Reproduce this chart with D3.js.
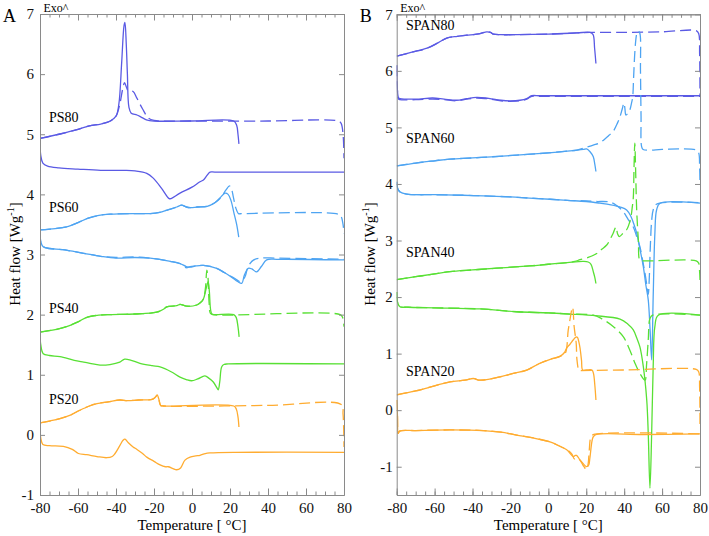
<!DOCTYPE html>
<html><head><meta charset="utf-8">
<script src="https://cdn.jsdelivr.net/npm/d3@7"></script>
<style>html,body{margin:0;padding:0;background:#fff}</style>
</head><body><svg id="c" width="709" height="536"></svg>
<script>
// ---------- tick values ----------
const xTickValues = [-80,-60,-40,-20,0,20,40,60,80];
const xMinorTicks = [-80,-75,-70,-65,-60,-55,-50,-45,-40,-35,-30,-25,-20,-15,-10,-5,0,5,10,15,20,25,30,35,40,45,50,55,60,65,70,75,80];
const yTickValues = [-1,0,1,2,3,4,5,6,7];

// ---------- Panel A data ([T °C, heat flow W/g]) ----------
const ps80HeatSolid = [[-80,4.93],[-70,5.0],[-60,5.08],[-54,5.14],[-48,5.17],[-43,5.22],[-40,5.30],[-38.5,5.5],[-37,6.2],[-35.8,6.8],[-35.3,6.86],[-34.6,6.5],[-34,6.0],[-33.2,5.45],[-32,5.35],[-29,5.32],[-27,5.29],[-24,5.24],[-20,5.22],[0,5.22],[22,5.22],[23.5,5.15],[24.2,5.0],[24.7,4.84]];
const ps80HeatDash = [[-80,4.93],[-70,5.0],[-60,5.08],[-54,5.14],[-48,5.17],[-43,5.22],[-40,5.30],[-38,5.5],[-36.5,5.75],[-35.5,5.86],[-34.5,5.78],[-33.5,5.72],[-31,5.71],[-29,5.6],[-26,5.42],[-23,5.27],[-20,5.23],[0,5.22],[40,5.22],[77,5.22],[78.5,5.18],[79.5,5.0],[80,4.6]];
const ps80Cool = [[-80,4.85],[-79.6,4.65],[-78.5,4.52],[-76,4.47],[-70,4.44],[-60,4.42],[-48,4.40],[-35,4.40],[-30,4.39],[-23.8,4.35],[-20.4,4.27],[-16,4.10],[-12,3.93],[-11,3.93],[-6.3,4.02],[0,4.12],[4.2,4.21],[6,4.24],[8,4.32],[9.5,4.37],[12,4.37],[80,4.37]];

const ps60HeatSolid = [[-80,3.41],[-72,3.43],[-66,3.46],[-60,3.53],[-55,3.60],[-49,3.65],[-43,3.67],[-30,3.68],[-22,3.68],[-17,3.70],[-13,3.74],[-8,3.79],[-5.5,3.82],[-3,3.79],[-1,3.78],[3,3.79],[8,3.80],[12,3.86],[15,3.95],[17.4,4.02],[19,4.0],[20.5,3.9],[22,3.7],[23.5,3.5],[24.6,3.29]];
const ps60HeatDash = [[-80,3.41],[-72,3.43],[-66,3.46],[-60,3.53],[-55,3.60],[-49,3.65],[-43,3.67],[-30,3.68],[-22,3.68],[-17,3.70],[-13,3.74],[-8,3.79],[-5.5,3.82],[-3,3.79],[-1,3.78],[3,3.79],[8,3.80],[12,3.86],[15,3.94],[18,4.08],[19.7,4.14],[20.7,4.10],[21.8,3.95],[23,3.78],[24.5,3.68],[26,3.68],[77,3.67],[78.5,3.63],[79.5,3.5],[80,3.35]];
const ps60Cool = [[-80,3.38],[-79.5,3.2],[-78.3,3.13],[-75,3.10],[-68,3.08],[-57,3.02],[-48,2.97],[-40,2.94],[-30,2.95],[-22,2.94],[-12,2.89],[-6.3,2.85],[-3,2.80],[-1,2.79],[2,2.81],[6,2.82],[13,2.77],[17,2.70],[21,2.62],[24,2.55],[26.2,2.52],[27.5,2.65],[29.6,2.77],[31.5,2.76],[34,2.71],[36.5,2.80],[39.3,2.91],[45,2.92],[80,2.91]];
const ps60CoolDash = [[-80,3.38],[-79.5,3.2],[-78.3,3.13],[-75,3.10],[-68,3.08],[-57,3.02],[-48,2.97],[-40,2.95],[-30,2.96],[-22,2.94],[-12,2.89],[-6.3,2.85],[-3,2.78],[-1,2.80],[2,2.81],[6,2.82],[13,2.77],[17,2.70],[20,2.65],[23,2.59],[25.5,2.55],[27.9,2.63],[29,2.75],[30.5,2.85],[32.5,2.91],[35.8,2.94],[45,2.94],[80,2.92]];

const ps40HeatSolid = [[-80,1.71],[-72,1.75],[-66,1.80],[-60,1.88],[-55,1.96],[-49,1.99],[-43,2.00],[-30,2.01],[-18.6,2.04],[-15,2.09],[-13.3,2.13],[-8,2.15],[-6.3,2.17],[-2.8,2.14],[2.5,2.16],[4.5,2.20],[6,2.26],[7.2,2.40],[8.5,2.55],[9.1,2.40],[9.8,2.08],[10.5,2.01],[12,2.0],[22,2.0],[23.3,1.95],[24.2,1.8],[24.8,1.63]];
const ps40HeatDash = [[-80,1.71],[-72,1.75],[-66,1.80],[-60,1.88],[-55,1.96],[-49,1.99],[-43,2.00],[-30,2.01],[-18.6,2.04],[-15,2.09],[-13.3,2.13],[-8,2.15],[-6.3,2.17],[-2.8,2.14],[2.5,2.16],[4.5,2.20],[6,2.26],[7.1,2.45],[7.8,2.74],[8.4,2.62],[9,2.2],[9.7,2.02],[11,2.0],[78,2.0],[79.3,1.95],[80,1.8]];
const ps40Cool = [[-80,1.69],[-79.6,1.5],[-78.3,1.35],[-75,1.32],[-69.5,1.30],[-62,1.24],[-57,1.21],[-53.7,1.19],[-48.4,1.16],[-43.2,1.17],[-38,1.21],[-35.4,1.26],[-32,1.24],[-27.4,1.19],[-21,1.15],[-16.8,1.13],[-11,1.05],[-6.3,0.96],[-3,0.92],[-0.2,0.90],[3,0.93],[6.8,0.98],[9,0.94],[11.2,0.88],[13,0.79],[13.8,0.75],[14.6,0.88],[15.6,1.13],[16.8,1.17],[19,1.18],[80,1.18]];

const ps20HeatSolid = [[-80,0.20],[-75,0.23],[-69.5,0.27],[-64,0.33],[-59,0.41],[-54,0.48],[-50,0.52],[-44,0.55],[-38,0.58],[-34,0.57],[-28,0.58],[-21,0.59],[-19.5,0.62],[-18.3,0.66],[-17.5,0.60],[-16.5,0.49],[-15,0.48],[22,0.48],[23.3,0.43],[24.2,0.3],[24.7,0.13]];
const ps20HeatDash = [[-80,0.20],[-75,0.23],[-69.5,0.27],[-64,0.33],[-59,0.41],[-54,0.48],[-50,0.52],[-44,0.55],[-38,0.58],[-34,0.57],[-28,0.58],[-21,0.59],[-19.5,0.62],[-18.3,0.66],[-17.5,0.60],[-16.5,0.49],[-15,0.48],[40,0.49],[78.8,0.50],[79.5,0.35],[80,-0.2]];
const ps20Cool = [[-80,0.08],[-79.6,-0.05],[-78.5,-0.16],[-75,-0.18],[-67.7,-0.19],[-63,-0.24],[-59.8,-0.31],[-55.4,-0.33],[-50,-0.36],[-44.9,-0.38],[-42,-0.36],[-40.5,-0.31],[-38,-0.18],[-36.3,-0.09],[-35.3,-0.07],[-33.5,-0.13],[-31,-0.20],[-29.1,-0.24],[-26,-0.31],[-23.8,-0.37],[-20,-0.44],[-16.8,-0.50],[-14,-0.53],[-12.5,-0.53],[-10,-0.56],[-8.1,-0.58],[-6,-0.55],[-3.7,-0.42],[-1,-0.37],[2,-0.35],[4.2,-0.34],[7,-0.31],[9.5,-0.30],[22.8,-0.29],[80,-0.29]];

// ---------- Panel B data ----------
const span80HeatSolid = [[-80,6.26],[-72,6.33],[-64,6.40],[-58,6.50],[-53.6,6.58],[-48,6.61],[-43,6.63],[-36,6.66],[-32.5,6.69],[-30.5,6.68],[-29,6.65],[-25,6.64],[-16.7,6.64],[0,6.65],[15,6.67],[22,6.68],[23.6,6.64],[24.4,6.4],[25.1,6.13]];
const span80HeatDash = [[-80,6.26],[-72,6.33],[-64,6.40],[-58,6.50],[-53.6,6.58],[-48,6.61],[-43,6.63],[-36,6.66],[-32.5,6.69],[-30.5,6.68],[-29,6.65],[-25,6.64],[-16.7,6.64],[0,6.65],[15,6.67],[22,6.68],[40,6.68],[60,6.69],[78,6.71],[79.3,6.66],[79.8,6.3],[80,5.56]];
const span80Cool = [[-80,6.1],[-79.7,5.7],[-79,5.52],[-78.3,5.51],[-70,5.50],[-61,5.52],[-55,5.50],[-48.4,5.48],[-43,5.51],[-37.8,5.53],[-33,5.52],[-30.8,5.51],[-25,5.48],[-20.2,5.47],[-15,5.48],[-11.4,5.51],[-8.8,5.56],[-5,5.56],[0,5.56],[20,5.56],[80,5.56]];
const span80CoolDash = [[-80,6.1],[-79.7,5.7],[-79,5.50],[-78.3,5.49],[-70,5.49],[-61,5.50],[-55,5.49],[-48.4,5.47],[-43,5.50],[-37.8,5.52],[-33,5.51],[-30.8,5.50],[-25,5.47],[-20.2,5.46],[-15,5.47],[-11.4,5.50],[-8.8,5.55],[-5,5.55],[0,5.55],[20,5.55],[80,5.55]];

const span60HeatSolid = [[-80,4.32],[-70,4.37],[-60,4.41],[-51.9,4.44],[-40,4.46],[-30,4.48],[-16.7,4.51],[0,4.55],[10,4.58],[18.4,4.61],[20.2,4.62],[22,4.57],[23.7,4.48],[24.5,4.35],[25.1,4.22]];
const span60HeatDash = [[-80,4.32],[-70,4.37],[-60,4.41],[-51.9,4.44],[-40,4.46],[-30,4.48],[-16.7,4.51],[0,4.55],[10,4.58],[15,4.60],[20.2,4.65],[24,4.69],[27.2,4.73],[30,4.80],[32,4.86],[34.2,4.93],[36.5,5.08],[37.8,5.19],[39,5.33],[39.9,5.43],[40.4,5.33],[40.9,5.22],[42,5.25],[43,5.31],[44,5.45],[44.5,5.54],[45,5.9],[45.7,6.37],[46.4,6.62],[46.9,6.69],[47.6,6.70],[48.3,6.66],[48.6,6.0],[48.9,5.2],[49.2,4.66],[50,4.61],[60,4.61],[69.4,4.62],[78,4.60],[79.3,4.55],[79.8,4.3],[80,4.0]];
const span60Cool = [[-80,4.04],[-79.5,3.92],[-78.3,3.86],[-74.7,3.82],[-60,3.81],[-45,3.80],[-34.3,3.79],[-20,3.77],[-10,3.75],[0.85,3.73],[10,3.71],[20,3.69],[27.2,3.66],[33,3.63],[38,3.59],[41.3,3.54],[43.5,3.43],[45,3.30],[46.6,3.13],[48.3,2.85],[50.1,2.54],[51.5,2.2],[52.7,1.95],[53.7,1.4],[54.5,0.89],[55.3,2.0],[56.2,3.13],[57.1,3.54],[58.9,3.66],[80,3.66]];
const span60CoolDash = [[-80,4.04],[-79.5,3.92],[-78.3,3.86],[-74.7,3.82],[-60,3.81],[-45,3.80],[-34.3,3.79],[-20,3.77],[-10,3.75],[0.85,3.73],[10,3.71],[20,3.70],[25,3.69],[32.5,3.68],[36,3.62],[39.5,3.51],[42,3.38],[44.8,3.24],[46.5,3.08],[48.3,2.89],[50,2.6],[51,2.42],[52,2.2],[52.7,2.05],[53.2,2.3],[53.8,2.9],[54.5,3.35],[55.3,3.54],[57,3.64],[80,3.67]];

const span40HeatSolid = [[-80,2.31],[-70,2.36],[-60,2.41],[-51.9,2.45],[-40,2.48],[-27.3,2.51],[-10,2.55],[0,2.58],[10,2.61],[18.4,2.63],[21,2.62],[22.5,2.58],[23.7,2.45],[24.5,2.35],[25.1,2.24]];
const span40HeatDash = [[-80,2.31],[-70,2.36],[-60,2.41],[-51.9,2.45],[-40,2.48],[-27.3,2.51],[-10,2.55],[0,2.58],[10,2.61],[14,2.63],[16.7,2.66],[21,2.70],[25.5,2.77],[28,2.84],[30.8,2.92],[33,3.05],[34.2,3.13],[35.7,3.24],[36.5,3.12],[37.4,3.07],[39.5,3.13],[41.3,3.19],[43.4,3.39],[44.3,3.6],[44.8,3.75],[45.2,4.3],[45.6,4.72],[46.0,4.3],[46.6,3.54],[47.5,3.0],[48.3,2.65],[50,2.64],[78,2.64],[79.3,2.6],[79.8,2.45],[80,2.3]];
const span40Cool = [[-80,2.09],[-79.5,1.9],[-78.3,1.83],[-74,1.82],[-60,1.81],[-36,1.79],[-16.7,1.74],[0,1.72],[11.4,1.70],[25,1.67],[37.8,1.61],[42,1.52],[44.8,1.42],[46.6,1.28],[48.3,1.12],[50.1,0.77],[51.9,0.18],[52.7,-0.41],[53.6,-1.38],[54.5,-0.41],[55.3,0.77],[56.2,1.48],[58,1.68],[80,1.68]];
const span40CoolDash = [[-80,2.09],[-79.5,1.9],[-78.3,1.83],[-74,1.82],[-60,1.81],[-36,1.79],[-16.7,1.74],[0,1.72],[11.4,1.70],[23.7,1.68],[28,1.62],[34.2,1.48],[39.5,1.30],[43,1.06],[45.7,0.83],[48.3,0.65],[51,0.53],[51.8,0.8],[52.7,1.24],[53.6,1.62],[55,1.68],[80,1.68]];

const span20HeatSolid = [[-80,0.27],[-70,0.34],[-60,0.43],[-51.9,0.50],[-44,0.53],[-39.6,0.56],[-36,0.53],[-25.5,0.59],[-18.5,0.65],[-11.4,0.71],[-4.4,0.83],[1,0.90],[6.1,0.95],[8.5,1.02],[9.7,1.10],[11.5,1.17],[13.1,1.24],[14.5,1.29],[15.3,1.29],[16,1.22],[16.7,1.10],[17.5,0.88],[18.1,0.71],[20,0.71],[23,0.71],[23.8,0.65],[24.5,0.45],[25.1,0.18]];
const span20HeatDash = [[-80,0.27],[-70,0.34],[-60,0.43],[-51.9,0.50],[-44,0.53],[-39.6,0.56],[-36,0.53],[-25.5,0.59],[-18.5,0.65],[-11.4,0.71],[-4.4,0.83],[1,0.90],[6.1,0.95],[8.8,1.0],[10.5,1.42],[11.5,1.62],[12.3,1.77],[12.8,1.82],[13.6,1.48],[14.7,1.18],[15.1,0.89],[16.2,0.70],[17,0.70],[40,0.71],[78,0.72],[79.3,0.68],[79.8,0.4],[80,-0.3]];
const span20Cool = [[-80,0.18],[-79.6,-0.1],[-79.2,-0.41],[-78.5,-0.37],[-70,-0.36],[-51.9,-0.35],[-34.3,-0.36],[-25,-0.39],[-16.7,-0.44],[-8,-0.49],[0.85,-0.56],[5,-0.62],[9.7,-0.70],[13.1,-0.82],[14.2,-0.80],[14.9,-0.80],[16.7,-0.88],[18.5,-0.95],[20.2,-1.0],[21.3,-0.97],[21.9,-0.85],[23,-0.55],[23.7,-0.47],[25.4,-0.43],[50,-0.43],[80,-0.42]];
const span20CoolDash = [[-80,0.18],[-79.6,-0.1],[-79.2,-0.41],[-78.5,-0.37],[-70,-0.36],[-51.9,-0.35],[-34.3,-0.36],[-25,-0.39],[-16.7,-0.44],[-8,-0.49],[0.85,-0.56],[5,-0.62],[9.7,-0.70],[11.4,-0.74],[12.5,-0.78],[13.7,-0.86],[15,-0.84],[17,-0.90],[18.8,-1.0],[20.2,-1.05],[21,-0.95],[21.6,-0.7],[22.5,-0.47],[24,-0.43],[80,-0.42]];

// ---------- colours / labels ----------
const colors = {c80:"#5a5ae4", c60:"#4ea4f2", c40:"#58e034", c20:"#ffac30"};
const panelASeries = [
  {d:ps80HeatSolid,c:"c80",dash:false},{d:ps80HeatDash,c:"c80",dash:true},{d:ps80Cool,c:"c80",dash:false},
  {d:ps60HeatSolid,c:"c60",dash:false},{d:ps60HeatDash,c:"c60",dash:true},{d:ps60Cool,c:"c60",dash:false},{d:ps60CoolDash,c:"c60",dash:true},
  {d:ps40HeatSolid,c:"c40",dash:false},{d:ps40HeatDash,c:"c40",dash:true},{d:ps40Cool,c:"c40",dash:false},
  {d:ps20HeatSolid,c:"c20",dash:false},{d:ps20HeatDash,c:"c20",dash:true},{d:ps20Cool,c:"c20",dash:false}
];
const panelBSeries = [
  {d:span80HeatSolid,c:"c80",dash:false},{d:span80HeatDash,c:"c80",dash:true},{d:span80Cool,c:"c80",dash:false},{d:span80CoolDash,c:"c80",dash:true},
  {d:span60HeatSolid,c:"c60",dash:false},{d:span60HeatDash,c:"c60",dash:true},{d:span60Cool,c:"c60",dash:false},{d:span60CoolDash,c:"c60",dash:true},
  {d:span40HeatSolid,c:"c40",dash:false},{d:span40HeatDash,c:"c40",dash:true},{d:span40Cool,c:"c40",dash:false},{d:span40CoolDash,c:"c40",dash:true},
  {d:span20HeatSolid,c:"c20",dash:false},{d:span20HeatDash,c:"c20",dash:true},{d:span20Cool,c:"c20",dash:false},{d:span20CoolDash,c:"c20",dash:true}
];
const labelsA = ["PS80","PS60","PS40","PS20"];
const labelsB = ["SPAN80","SPAN60","SPAN40","SPAN20"];

// ---------- drawing ----------
const svg = d3.select("#c");
const FONT = "'Liberation Serif','Times New Roman',serif";
const axisGrey = "#8a8a8a";

const panels = [
  {letter:"A", left:40, right:344, top:14, bottom:495, yDomain:[-1,7], pad:6, series:panelASeries,
   labels:labelsA, labelX:49, labelY:[121.5,211.7,313.3,404], ylabX:20},
  {letter:"B", left:396.7, right:700, top:14.3, bottom:495, yDomain:[-1.5,7], pad:4, series:panelBSeries,
   labels:labelsB, labelX:406, labelY:[30,143.3,256.7,376], ylabX:375}
];

panels.forEach((p,i) => {
  const x = d3.scaleLinear().domain([-80,80]).range([p.left,p.right]);
  const y = d3.scaleLinear().domain(p.yDomain).range([p.bottom,p.top]);
  const g = svg.append("g");
  const clipId = "clip"+i;
  svg.append("clipPath").attr("id",clipId).append("rect")
    .attr("x",p.left).attr("y",p.top-1).attr("width",p.right-p.left+0.5).attr("height",p.bottom-p.top+1);

  const line = d3.line().x(d=>x(d[0])).y(d=>y(d[1])).curve(d3.curveCatmullRom.alpha(0.5));
  const lg = g.append("g").attr("clip-path",`url(#${clipId})`);
  p.series.forEach(s => {
    lg.append("path").attr("d",line(s.d)).attr("fill","none")
      .attr("stroke",colors[s.c]).attr("stroke-width",1.3)
      .attr("stroke-dasharray",s.dash?"11,5":null).attr("stroke-linejoin","round");
  });

  // axes
  const styleAxis = sel => {
    sel.selectAll(".domain").attr("stroke",axisGrey).attr("stroke-width",1);
    sel.selectAll(".tick line").attr("stroke",axisGrey);
    sel.selectAll("text").attr("font-family",FONT).attr("font-size",15).attr("fill","#111");
  };
  // minor x ticks
  g.append("g").attr("transform",`translate(0,${p.bottom})`)
    .call(d3.axisBottom(x).tickValues(xMinorTicks).tickSize(-3.5).tickSizeOuter(0).tickFormat(""))
    .call(styleAxis);
  g.append("g").attr("transform",`translate(0,${p.top})`)
    .call(d3.axisTop(x).tickValues(xMinorTicks).tickSize(-3.5).tickSizeOuter(0).tickFormat(""))
    .call(styleAxis);
  // major x ticks
  g.append("g").attr("transform",`translate(0,${p.bottom})`)
    .call(d3.axisBottom(x).tickValues(xTickValues).tickSize(-6.5).tickSizeOuter(0).tickPadding(7).tickFormat(d3.format("d")))
    .call(styleAxis);
  g.append("g").attr("transform",`translate(0,${p.top})`)
    .call(d3.axisTop(x).tickValues(xTickValues).tickSize(-6.5).tickSizeOuter(0).tickFormat(""))
    .call(styleAxis);
  // y ticks
  g.append("g").attr("transform",`translate(${p.left},0)`)
    .call(d3.axisLeft(y).tickValues(yTickValues).tickSize(-5).tickSizeOuter(0).tickPadding(p.pad).tickFormat(d3.format("d")))
    .call(styleAxis);
  g.append("g").attr("transform",`translate(${p.right},0)`)
    .call(d3.axisRight(y).tickValues(yTickValues).tickSize(-5).tickSizeOuter(0).tickFormat(""))
    .call(styleAxis);
  // minus sign as hyphen like reference
  g.selectAll("text").each(function(){ const t=d3.select(this); t.text(t.text().replace("\u2212","-")); });

  // axis titles
  g.append("text").attr("x",(p.left+p.right)/2).attr("y",530).attr("text-anchor","middle")
    .attr("font-family",FONT).attr("font-size",15).text("Temperature [ °C]");
  const yl = g.append("text").attr("transform",`translate(${p.ylabX},254) rotate(-90)`)
    .attr("text-anchor","middle").attr("font-family",FONT).attr("font-size",15);
  yl.append("tspan").text("Heat flow [Wg");
  yl.append("tspan").attr("font-size",10).attr("dy",-6).text("-1");
  yl.append("tspan").attr("dy",6).text("]");

  // letter and Exo
  g.append("text").attr("x",p.left-37).attr("y",21.5).attr("font-family",FONT).attr("font-size",18).text(p.letter);
  g.append("text").attr("x",p.left+3.5).attr("y",11.5).attr("font-family",FONT).attr("font-size",12).text("Exo^");

  // series labels
  p.labels.forEach((t,k)=>{
    g.append("text").attr("x",p.labelX).attr("y",p.labelY[k]).attr("font-family",FONT).attr("font-size",14).text(t);
  });
});
</script></body></html>
